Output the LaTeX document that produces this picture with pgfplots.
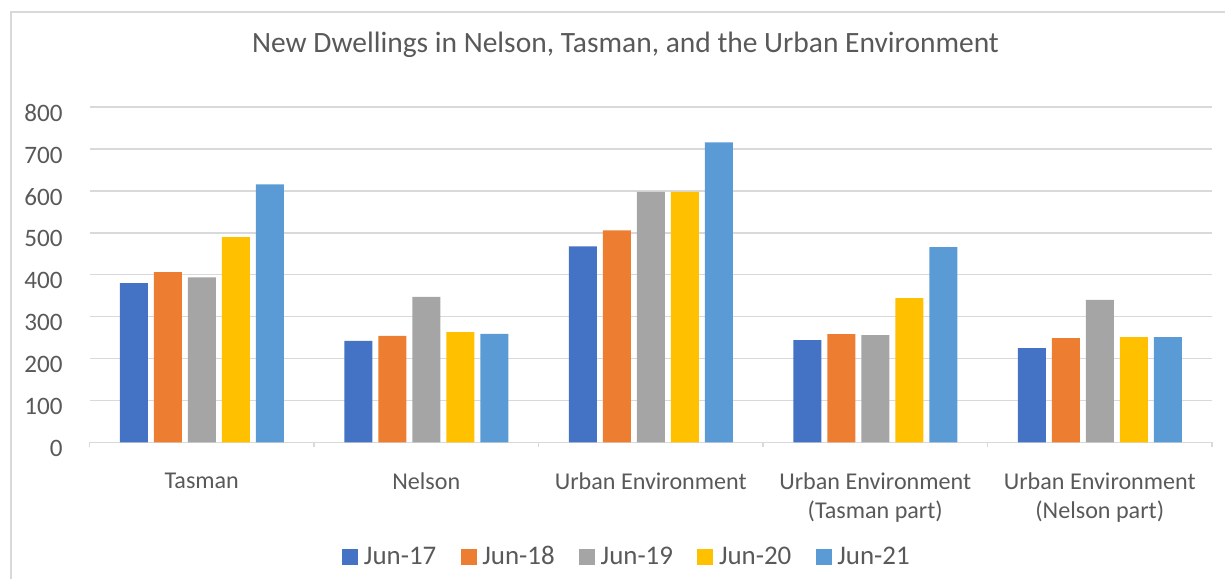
\documentclass[border=0pt]{standalone}
\usepackage{pgfplots}
\pgfplotsset{compat=1.18}
\usepackage{fontspec}
\setmainfont{Carlito}
\definecolor{c17}{HTML}{4472C4}
\definecolor{c18}{HTML}{ED7D31}
\definecolor{c19}{HTML}{A5A5A5}
\definecolor{c20}{HTML}{FFC000}
\definecolor{c21}{HTML}{5B9BD5}
\definecolor{txt}{HTML}{595959}
\definecolor{grd}{HTML}{D9D9D9}
\begin{document}
\begin{tikzpicture}
\path[use as bounding box] (0,0) rectangle (612.5bp,289.5bp);
\draw[grd, line width=1bp] (5.5bp,0) -- (5.5bp,283.5bp) -- (612.5bp,283.5bp);
\node[anchor=base, text=txt, font=\fontsize{14.8}{17}\selectfont] at (312.75bp,263.35bp) {New Dwellings in Nelson, Tasman, and the Urban Environment};
\begin{axis}[
  at={(44.75bp,68.35bp)}, anchor=south west,
  scale only axis, width=561.25bp, height=167.55bp,
  ybar=3bp, bar width=14bp,
  xmin=-0.5, xmax=4.5, ymin=0, ymax=800,
  ytick={0,100,...,800},
  xtick={0,1,2,3,4},
  xticklabels={Tasman,Nelson,Urban Environment,{Urban Environment\\(Tasman part)},{Urban Environment\\(Nelson part)}},
  minor xtick={-0.5,0.5,1.5,2.5,3.5,4.5},
  major tick length=0pt, minor tick length=2.5bp, tick align=outside,
  minor tick style={grd, line width=0.75bp},
  axis x line*=bottom, axis y line*=left,
  x axis line style={grd, line width=0.75bp, -},
  y axis line style={draw=none},
  ymajorgrids, grid style={grd, line width=0.75bp},
  /pgf/number format/assume math mode=true,
  yticklabel style={text=txt, font=\fontsize{12.6}{15}\selectfont, anchor=east, inner sep=0pt, xshift=-13.25bp, yshift=-3bp},
  xticklabel style={text=txt, font=\fontsize{12.1}{14.5}\selectfont, align=center, anchor=north, inner sep=0pt, yshift=-15bp},
  legend style={at={(0.478,-0.342)}, anchor=center, draw=none, fill=none, legend columns=5,
    font=\fontsize{13.5}{16}\selectfont, text=txt,
    nodes={inner sep=0pt},
    /tikz/every odd column/.append style={column sep=2.8bp},
    /tikz/every even column/.append style={column sep=12.2bp}},
  legend image code/.code={\fill[#1] (0bp,-4bp) rectangle (8bp,4bp);},
]
\addplot[fill=c17, draw=none] coordinates {(0,380) (1,242) (2,468) (3,244) (4,225)};
\addplot[fill=c18, draw=none] coordinates {(0,406) (1,254) (2,506) (3,258) (4,249)};
\addplot[fill=c19, draw=none] coordinates {(0,394) (1,347) (2,598) (3,256) (4,340)};
\addplot[fill=c20, draw=none] coordinates {(0,490) (1,263) (2,598) (3,344) (4,251)};
\addplot[fill=c21, draw=none] coordinates {(0,616) (1,259) (2,716) (3,466) (4,251)};
\legend{Jun-17,Jun-18,Jun-19,Jun-20,Jun-21}
\end{axis}
\end{tikzpicture}
\end{document}
